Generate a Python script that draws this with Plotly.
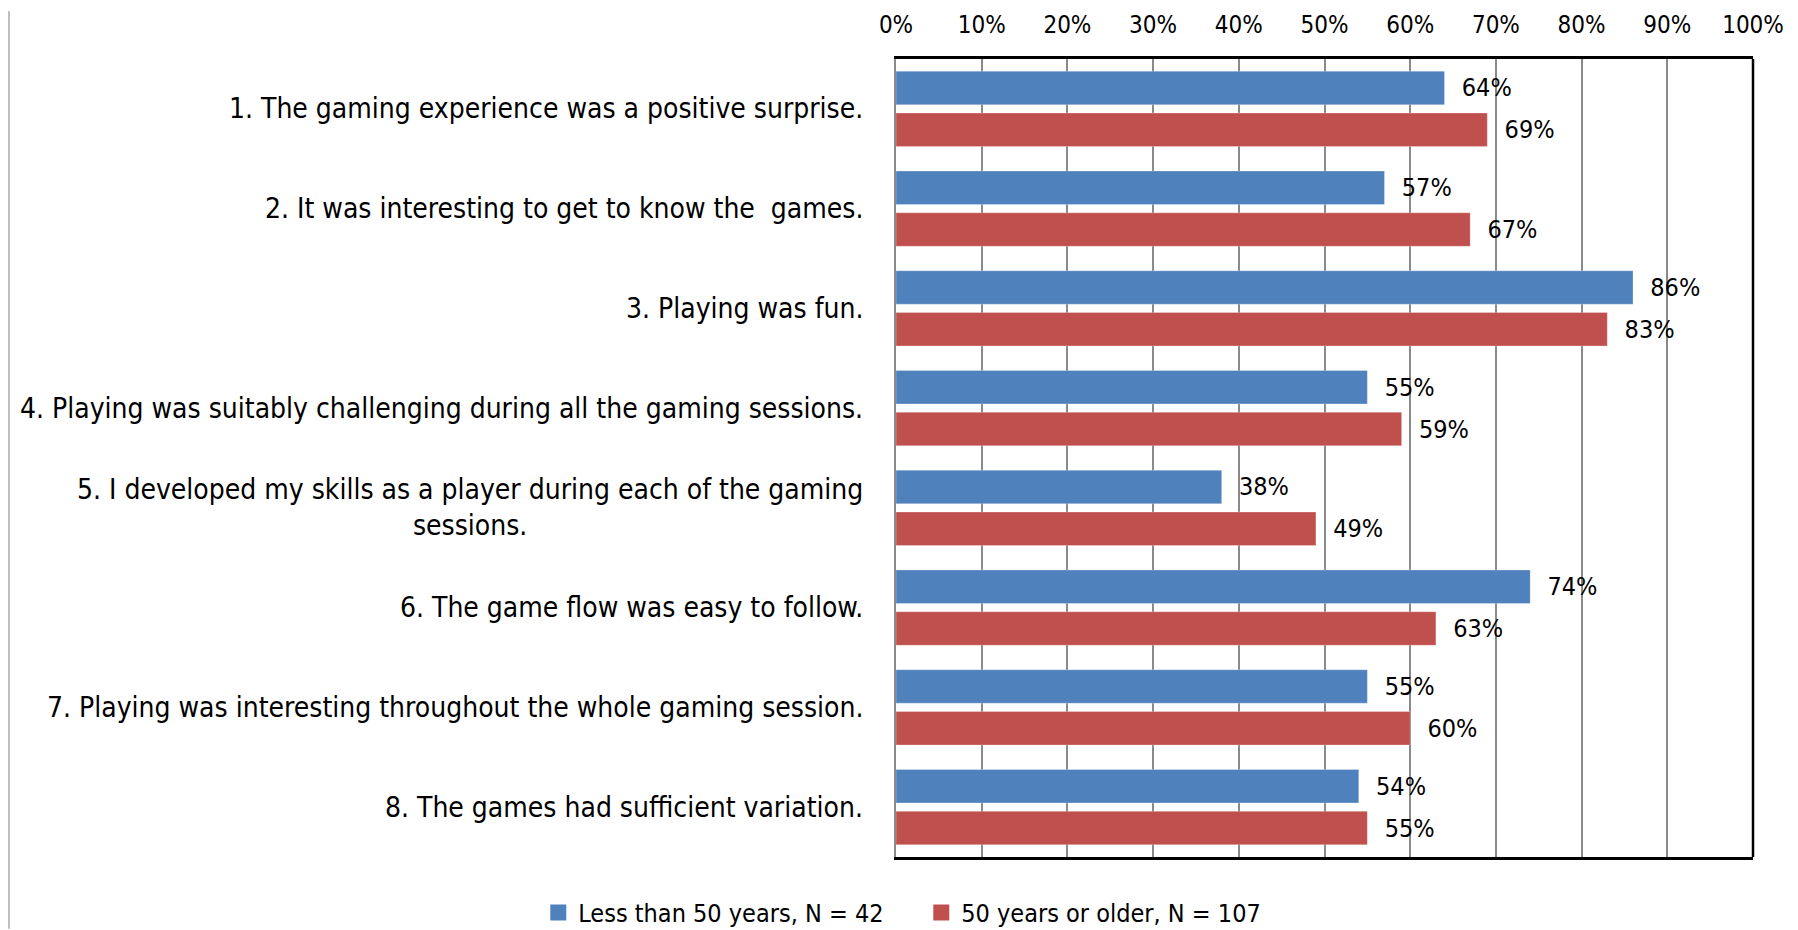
import plotly.graph_objects as go

categories = [
    "1. The gaming experience was a positive surprise.",
    "2. It was interesting to get to know the\u00a0 games.",
    "3. Playing was fun.",
    "4. Playing was suitably challenging during all the gaming sessions.",
    "5. I developed my skills as a player during each of the gaming<br>sessions.",
    "6. The game flow was easy to follow.",
    "7. Playing was interesting throughout the whole gaming session.",
    "8. The games had sufficient variation.",
]
under50 = [64, 57, 86, 55, 38, 74, 55, 54]
over50 = [69, 67, 83, 59, 49, 63, 60, 55]
series_names = ["Less than 50 years, N = 42", "50 years or older, N = 107"]
tick_vals = [0, 10, 20, 30, 40, 50, 60, 70, 80, 90, 100]
tick_text = [f"{v}%" for v in tick_vals]

FONT = "Liberation Sans Narrow, DejaVu Sans Condensed, Arial Narrow, sans-serif"
BLUE = "#4F81BD"
RED = "#C0504D"
GRID = "#8A8A8A"

fig = go.Figure()
for name, vals, col in [(series_names[0], under50, BLUE), (series_names[1], over50, RED)]:
    fig.add_trace(go.Bar(
        y=categories, x=vals, name=name, orientation="h", showlegend=False,
        marker=dict(color=col, line=dict(color="rgba(255,255,255,0.35)", width=0.8)),
        text=[f"\u00a0\u00a0{v}%" for v in vals], textposition="outside",
        textfont=dict(family=FONT, size=25, color="#000000"),
        cliponaxis=False,
    ))
# legend entries with larger square swatches
for name, col in [(series_names[0], BLUE), (series_names[1], RED)]:
    fig.add_trace(go.Scatter(
        x=[None], y=[None], mode="markers", name=name,
        marker=dict(symbol="square", size=17, color=col),
    ))

annotations = [
    dict(x=0, xref="paper", y=c, yref="y", text=c, showarrow=False,
         xanchor="right", yanchor="middle", align="center", xshift=-31,
         font=dict(family=FONT, size=28, color="#000000"))
    for c in categories
]

fig.update_layout(
    width=1790, height=922,
    margin=dict(l=888, r=45, t=51, b=73, autoexpand=False),
    paper_bgcolor="white", plot_bgcolor="white",
    barmode="group", bargap=0.162, bargroupgap=0.199,
    font=dict(family=FONT, size=25, color="#000000"),
    showlegend=True,
    legend=dict(orientation="h", x=-0.4174, xanchor="left", y=-0.07, yanchor="middle",
                font=dict(family=FONT, size=25, color="#000000"),
                itemwidth=30, traceorder="normal", entrywidth=338, entrywidthmode="pixels"),
    annotations=annotations,
    shapes=[
        dict(type="line", xref="paper", yref="paper", x0=-1.035, x1=-1.035, y0=-0.09, y1=1.06,
             line=dict(color="#BFBFBF", width=2)),
        dict(type="line", xref="paper", yref="paper", x0=1, x1=1, y0=0, y1=1,
             line=dict(color="#000000", width=2.5)),
    ],
)
fig.update_xaxes(
    range=[0, 100], side="top", tickvals=tick_vals, ticktext=tick_text,
    showgrid=True, gridcolor=GRID, gridwidth=1.5,
    showline=True, linecolor="#000000", linewidth=2.5, mirror=True,
    zeroline=False, ticks="", ticklabelstandoff=14, automargin=False,
    tickfont=dict(family=FONT, size=24, color="#000000"),
)
fig.update_yaxes(
    autorange="reversed", showticklabels=False, showgrid=False, automargin=False,
    showline=True, linecolor=GRID, linewidth=2, mirror=False, ticks="",
)

fig.write_html("out.html")
